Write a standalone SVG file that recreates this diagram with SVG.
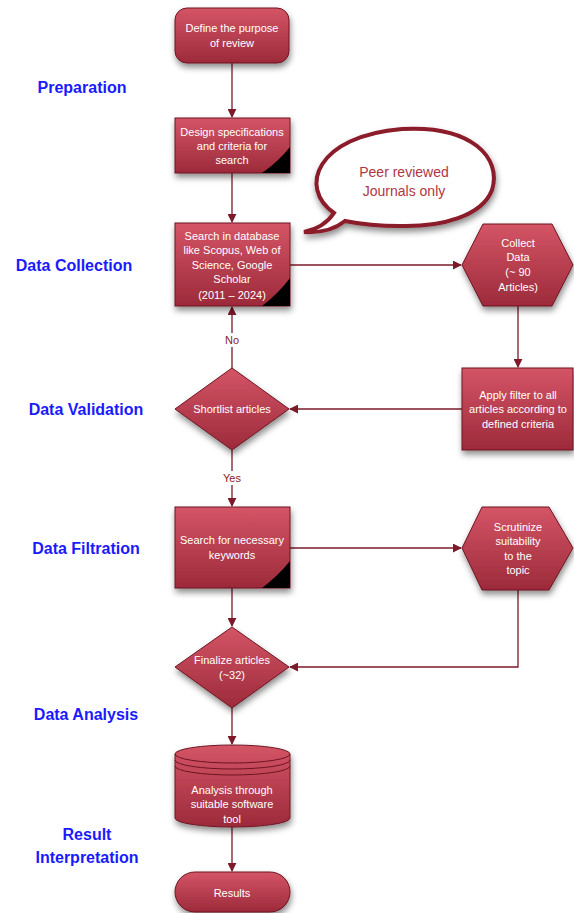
<svg xmlns="http://www.w3.org/2000/svg" width="574" height="913" viewBox="0 0 574 913">
<defs>
<linearGradient id="g" x1="0" y1="0" x2="0" y2="1">
<stop offset="0" stop-color="#d45566"/>
<stop offset="1" stop-color="#9c2a3a"/>
</linearGradient>
<filter id="sh" x="-20%" y="-20%" width="150%" height="160%">
<feDropShadow dx="1" dy="4" stdDeviation="3" flood-color="#000" flood-opacity="0.45"/>
</filter>
<marker id="ah" viewBox="0 0 10 10" refX="9" refY="5" markerWidth="9" markerHeight="9" markerUnits="userSpaceOnUse" orient="auto">
<path d="M0,0 L10,5 L0,10 Z" fill="#7c1a2a"/>
</marker>
<style>
.n{fill:url(#g);stroke:#6e1422;stroke-width:1;filter:url(#sh)}
.t{font-family:"Liberation Sans",Arial,sans-serif;font-size:11px;fill:#fff;text-anchor:middle}
.c{fill:none;stroke:#7c1a2a;stroke-width:1.3}
.l{font-family:"Liberation Sans",Arial,sans-serif;font-size:16px;font-weight:bold;fill:#1a1aff;text-anchor:middle}
.y{font-family:"Liberation Sans",Arial,sans-serif;font-size:11px;fill:#8b1a2a;text-anchor:middle}
.k{fill:#000}
.b{font-family:"Liberation Sans",Arial,sans-serif;font-size:14px;fill:#b03545;text-anchor:middle}
</style>
</defs>
<rect width="574" height="913" fill="#fff"/>

<g id="labels">
<text class="l" x="82" y="93">Preparation</text>
<text class="l" x="74" y="271">Data Collection</text>
<text class="l" x="86" y="415">Data Validation</text>
<text class="l" x="86" y="554">Data Filtration</text>
<text class="l" x="86" y="720">Data Analysis</text>
<text class="l" x="87" y="840">Result</text>
<text class="l" x="87" y="863">Interpretation</text>
</g>

<g id="connectors">
<path class="c" d="M232,63 V117" marker-end="url(#ah)"/>
<path class="c" d="M232,173 V222" marker-end="url(#ah)"/>
<path class="c" d="M290,265 H461" marker-end="url(#ah)"/>
<path class="c" d="M518,306 V367" marker-end="url(#ah)"/>
<path class="c" d="M462,409 H290" marker-end="url(#ah)"/>
<path class="c" d="M232,368 V347"/>
<path class="c" d="M232,333 V307" marker-end="url(#ah)"/>
<path class="c" d="M232,450 V471"/>
<path class="c" d="M232,485 V506" marker-end="url(#ah)"/>
<path class="c" d="M290,548 H461" marker-end="url(#ah)"/>
<path class="c" d="M518,590 V667 H290" marker-end="url(#ah)"/>
<path class="c" d="M232,588 V626" marker-end="url(#ah)"/>
<path class="c" d="M232,708 V744" marker-end="url(#ah)"/>
<path class="c" d="M232,827 V871" marker-end="url(#ah)"/>
<text class="y" x="232" y="344">No</text>
<text class="y" x="232" y="482">Yes</text>
</g>

<g id="n1">
<rect class="n" x="175" y="8" width="114" height="55" rx="12"/>
<text class="t" x="232" y="32">Define the purpose</text>
<text class="t" x="232" y="47">of review</text>
</g>

<g id="n2">
<rect class="n" x="175" y="118" width="115" height="55"/>
<path class="k" d="M290,147 L290,173 L262,173 Q278,162 290,147 Z"/>
<text class="t" x="232" y="136">Design specifications</text>
<text class="t" x="232" y="150">and criteria for</text>
<text class="t" x="232" y="164">search</text>
</g>

<g id="n3">
<rect class="n" x="175" y="223" width="115" height="83"/>
<path class="k" d="M290,278 L290,306 L262,306 Q278,294 290,278 Z"/>
<text class="t" x="232" y="240">Search in database</text>
<text class="t" x="232" y="254">like Scopus, Web of</text>
<text class="t" x="232" y="269">Science, Google</text>
<text class="t" x="232" y="283">Scholar</text>
<text class="t" x="232" y="299">(2011 – 2024)</text>
</g>

<g id="bubble">
<path d="M334,213 C298,188 316,136 402,129 C472,125 502,158 492,190 C482,216 442,227 400,226 C375,226 355,223 345,221 C335,229 320,233 304,232 C318,229 328,222 334,213 Z" fill="#fff" stroke="#8b1a2a" stroke-width="4" filter="url(#sh)"/>
<text class="b" x="404" y="177">Peer reviewed</text>
<text class="b" x="404" y="196">Journals only</text>
</g>

<g id="n4">
<path class="n" d="M462,265 L483,224 L552,224 L573,265 L552,306 L483,306 Z"/>
<text class="t" x="518" y="247">Collect</text>
<text class="t" x="518" y="261">Data</text>
<text class="t" x="518" y="276">(~ 90</text>
<text class="t" x="518" y="291">Articles)</text>
</g>

<g id="n5">
<rect class="n" x="462" y="368" width="111" height="82"/>
<text class="t" x="518" y="399">Apply filter to all</text>
<text class="t" x="518" y="413">articles according to</text>
<text class="t" x="518" y="428">defined criteria</text>
</g>

<g id="n6">
<path class="n" d="M232,368 L289,409 L232,450 L175,409 Z"/>
<text class="t" x="232" y="413">Shortlist articles</text>
</g>

<g id="n7">
<rect class="n" x="175" y="507" width="115" height="81"/>
<path class="k" d="M290,561 L290,588 L262,588 Q278,576 290,561 Z"/>
<text class="t" x="232" y="544">Search for necessary</text>
<text class="t" x="232" y="559">keywords</text>
</g>

<g id="n8">
<path class="n" d="M462,548 L482,507 L549,507 L573,548 L549,590 L482,590 Z"/>
<text class="t" x="518" y="531">Scrutinize</text>
<text class="t" x="518" y="545">suitability</text>
<text class="t" x="518" y="560">to the</text>
<text class="t" x="518" y="574">topic</text>
</g>

<g id="n9">
<path class="n" d="M232,627 L289,667 L232,708 L175,667 Z"/>
<text class="t" x="232" y="664">Finalize articles</text>
<text class="t" x="232" y="679">(~32)</text>
</g>

<g id="n10">
<path class="n" d="M175,754 A57.5,9 0 0 1 290,754 L290,818 A57.5,9 0 0 1 175,818 Z"/>
<path d="M175,754 A57.5,9 0 0 0 290,754 M175,760 A57.5,9 0 0 0 290,760 M175,766 A57.5,9 0 0 0 290,766" fill="none" stroke="#6e1422" stroke-width="1"/>
<text class="t" x="232" y="794">Analysis through</text>
<text class="t" x="232" y="808">suitable software</text>
<text class="t" x="232" y="823">tool</text>
</g>

<g id="n11">
<rect class="n" x="175" y="872" width="115" height="40" rx="20"/>
<text class="t" x="232" y="897">Results</text>
</g>
</svg>
